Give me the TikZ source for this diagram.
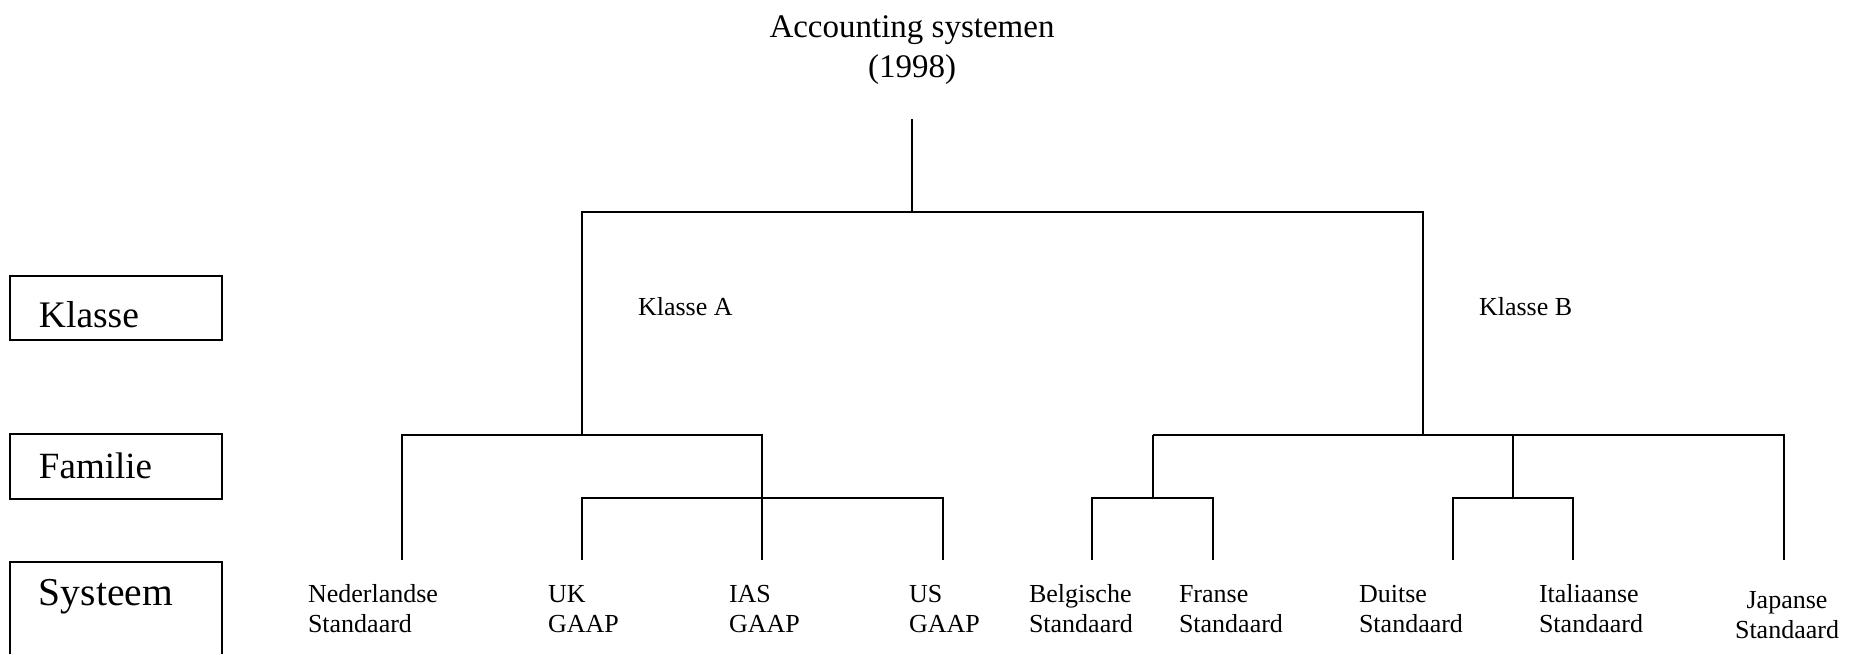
\documentclass[tikz,border=0pt]{standalone}
\usepackage{fontspec}
\setmainfont{Liberation Serif}
\begin{document}
\begin{tikzpicture}[x=0.5pt,y=-0.5pt,line width=1pt,
  conn/.style={line width=1pt},
  lbl/.style={anchor=base west,inner sep=0pt,align=left,font=\fontsize{13}{15}\selectfont},
  klbl/.style={anchor=base west,inner sep=0pt,font=\fontsize{13}{15}\selectfont},
  levelbox/.style={draw,line width=1pt},
  leveltxt/.style={anchor=base west,inner sep=0pt}]
\useasboundingbox (0,0) rectangle (1850,654);
% title (base anchor = baseline of last line)
\node[anchor=base,inner sep=0pt,align=center,font=\fontsize{16.5}{20}\selectfont] (title) at (912,77) {Accounting systemen\\(1998)};
% level boxes
\draw[levelbox] (10,276) rectangle (222,340);
\draw[levelbox] (10,434) rectangle (222,499);
\draw[levelbox] (10,654) -- (10,562) -- (222,562) -- (222,654);
\node[leveltxt,font=\fontsize{18.75}{20}\selectfont] (klasse) at (38,327) {Klasse};
\node[leveltxt,font=\fontsize{18.5}{20}\selectfont] (familie) at (38,478) {Familie};
\node[leveltxt,font=\fontsize{19.75}{22}\selectfont] (systeem) at (38,605) {Systeem};
% class labels
\node[klbl] (ka) at (637,315) {Klasse A};
\node[klbl] (kb) at (1478,315) {Klasse B};
% system labels (base anchor = baseline of second line)
\node[lbl] (ned) at (307,632) {Nederlandse\\Standaard};
\node[lbl] (uk) at (547,632) {UK\\GAAP};
\node[lbl] (ias) at (728,632) {IAS\\GAAP};
\node[lbl] (us) at (908,632) {US\\GAAP};
\node[lbl] (bel) at (1028,632) {Belgische\\Standaard};
\node[lbl] (fra) at (1178,632) {Franse\\Standaard};
\node[lbl] (dui) at (1358,632) {Duitse\\Standaard};
\node[lbl] (ita) at (1538,632) {Italiaanse\\Standaard};
\node[anchor=base,inner sep=0pt,align=center,font=\fontsize{13}{15}\selectfont] (jap) at (1787,638) {Japanse\\Standaard};
% junction coordinates
\coordinate (root) at (912,119);
\coordinate (rootj) at (912,212);
\coordinate (ja) at (582,435);
\coordinate (jb) at (1423,435);
\coordinate (jukus) at (582,498);
\coordinate (jbf) at (1153,498);
\coordinate (jdi) at (1513,498);
\coordinate (tned) at (402,560);
\coordinate (tuk) at (582,560);
\coordinate (tias) at (762,560);
\coordinate (tus) at (943,560);
\coordinate (tbel) at (1092,560);
\coordinate (tfra) at (1213,560);
\coordinate (tdui) at (1453,560);
\coordinate (tita) at (1573,560);
\coordinate (tjap) at (1784,560);
% connectors
\draw[conn] (root) -- (rootj);
\draw[conn] (ja) |- (rootj) -| (jb);
\draw[conn] (tned) |- (ja) -| (tias);
\draw[conn] (tuk) |- (jukus) -| (tus);
\draw[conn] (jbf |- jb) -- (tjap |- jb) -- (tjap);
\draw[conn] (jbf |- jb) -- (jbf);
\draw[conn] (jdi |- jb) -- (jdi);
\draw[conn] (tbel) |- (jbf) -| (tfra);
\draw[conn] (tdui) |- (jdi) -| (tita);
\end{tikzpicture}
\end{document}
